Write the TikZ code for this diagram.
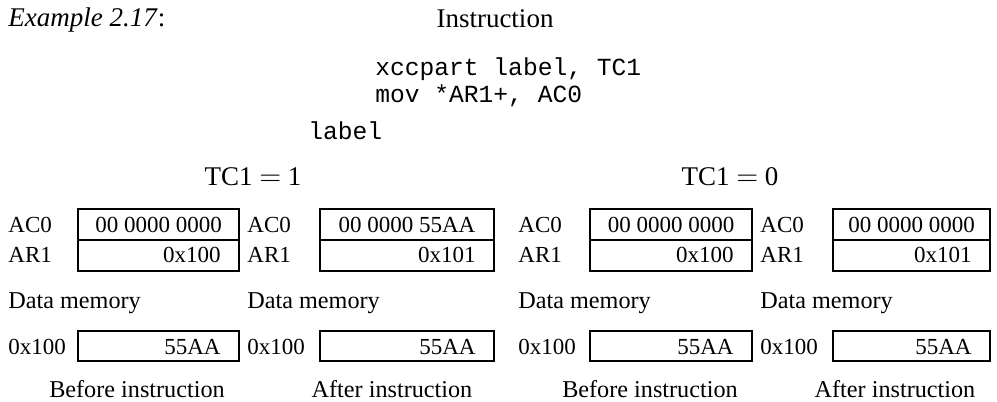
\documentclass[tikz,border=0pt]{standalone}
\usepackage{fontspec}
\setmainfont{Liberation Serif}
\setmonofont{Liberation Mono}
\usetikzlibrary{positioning}

\tikzset{
  lbl/.style={anchor=base west, inner sep=0pt, font=\fontsize{11.5}{13}\selectfont},
  val/.style={inner sep=0pt, font=\fontsize{11.5}{13}\selectfont},
  note/.style={inner sep=0pt, font=\fontsize{12.1}{14}\selectfont},
  head/.style={anchor=base, inner sep=0pt, font=\fontsize{13.5}{16}\selectfont},
  code/.style={anchor=base west, inner sep=0pt, font=\fontsize{12.3}{15}\ttfamily},
  regbox/.style={draw, line width=1pt},
}

\begin{document}
\begin{tikzpicture}[x=0.5pt,y=-0.5pt]
  \useasboundingbox (0,0) rectangle (997,402);

  % ----- heading and instruction -----
  \node[head, anchor=base west] (example) at (8,26) {\textit{Example 2.17}:};
  \node[head] (instr) at (495,27) {Instruction};
  \node[code] (line1) at (375,75) {xccpart label, TC1};
  \node[code] (line2) at (375,102) {mov *AR1+, AC0};
  \node[code] (line3) at (308,139) {label};

  \node[head] (tcone) at (253,185) {TC1 $=$ 1};
  \node[head] (tczero) at (730,185) {TC1 $=$ 0};

  % ----- four register / memory panels -----
  \foreach \nm/\lx/\bl/\br/\cx/\acc/\arr/\cap in {%
    bl/8/78/239/137/00 0000 0000/0x100/Before instruction,
    al/247/320/494/392/00 0000 55AA/0x101/After instruction,
    br/518/590/752/650/00 0000 0000/0x100/Before instruction,
    ar/760/833/990/895/00 0000 0000/0x101/After instruction}{%
    % registers
    \draw[regbox] (\bl,209) rectangle (\br,271);
    \draw[regbox] (\bl,240) -- (\br,240);
    \node[lbl] (acl-\nm) at (\lx,232) {AC0};
    \node[lbl] (arl-\nm) at (\lx,262) {AR1};
    \node[val, anchor=base] (acv-\nm) at ({(\bl+\br)/2},232) {\acc};
    \node[val, anchor=base east] (arv-\nm) at (\br-18,262) {\arr};
    % data memory
    \node[note, anchor=base west] (dm-\nm) at (\lx,308) {Data memory};
    \draw[regbox] (\bl,331) rectangle (\br,361);
    \node[lbl] (adr-\nm) at (\lx,354) {0x100};
    \node[val, anchor=base east] (mem-\nm) at (\br-18,354) {55AA};
    % caption
    \node[note, anchor=base] (cap-\nm) at (\cx,397) {\cap};
  }
\end{tikzpicture}
\end{document}
